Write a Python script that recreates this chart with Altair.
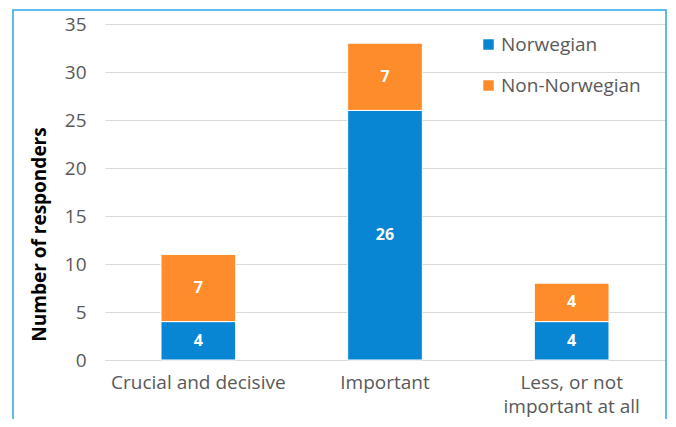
import altair as alt
import pandas as pd

categories = ["Crucial and decisive", "Important", "Less, or not important at all"]
norwegian = [4, 26, 4]
non_norwegian = [7, 7, 4]
groups = ["Norwegian", "Non-Norwegian"]
colors = ["#0886D3", "#FF8C2B"]

rows = []
for c, n, nn in zip(categories, norwegian, non_norwegian):
    rows.append({"cat": c, "group": groups[0], "value": n, "ord": 0})
    rows.append({"cat": c, "group": groups[1], "value": nn, "ord": 1})
df = pd.DataFrame(rows)

W, H = 560, 336
FONT = "Open Sans"

base = alt.Chart(df).transform_stack(
    stack="value", groupby=["cat"], as_=["y0", "y1"], sort=[alt.SortField("ord")]
).transform_calculate(mid="(datum.y0 + datum.y1) / 2")

xenc = alt.X("cat:N", sort=categories, title=None,
             scale=alt.Scale(paddingInner=0.6, paddingOuter=0.3),
             axis=alt.Axis(labelAngle=0, labelFontSize=19, labelColor="#595959",
                           labelFont=FONT, labelPadding=13, labelLineHeight=24,
                           ticks=False, domainColor="#d9d9d9", domainWidth=1,
                           labelExpr="datum.label == 'Less, or not important at all' ? ['Less, or not', 'important at all'] : datum.label"))

bars = base.mark_bar(stroke="white", strokeWidth=1).encode(
    x=xenc,
    y=alt.Y("y0:Q", title="Number of responders",
            scale=alt.Scale(domain=[0, 35]),
            axis=alt.Axis(values=[0, 5, 10, 15, 20, 25, 30, 35], domain=False, ticks=False,
                          gridColor="#d9d9d9", gridWidth=1, labelFontSize=19,
                          labelColor="#595959", labelFont=FONT, labelPadding=19,
                          titleFont=FONT, titleFontSize=19, titleFontWeight="bold",
                          titleColor="#000000", titlePadding=15, titleY=210)),
    y2="y1:Q",
    color=alt.Color("group:N", scale=alt.Scale(domain=groups, range=colors),
                    sort=groups,
                    legend=alt.Legend(title=None, orient="none", legendX=374, legendY=11,
                                      symbolType="square", symbolSize=110,
                                      symbolStrokeWidth=0, labelFontSize=19,
                                      labelFont=FONT, labelColor="#595959",
                                      rowPadding=21, labelOffset=3, padding=0)),
)

labels = base.mark_text(color="white", fontWeight="bold", fontSize=16, font=FONT).encode(
    x=alt.X("cat:N", sort=categories),
    y="mid:Q",
    text="value:Q",
)

frame = alt.Chart(df).mark_rect(fill=None, stroke="#2AA7E3", strokeWidth=1.5, clip=False).encode(
    x=alt.value(-92), x2=alt.value(W + 1), y=alt.value(-14), y2=alt.value(H + 120)
).transform_filter("datum.ord == 0 && datum.cat == 'Important'")

chart = alt.layer(bars, labels, frame).properties(
    width=W, height=H,
    autosize=alt.AutoSizeParams(type="none"),
    padding={"left": 97, "top": 16, "right": 2, "bottom": 59},
).configure_view(stroke=None)

chart.save("out.html", embed_options={"renderer": "svg", "actions": False})
